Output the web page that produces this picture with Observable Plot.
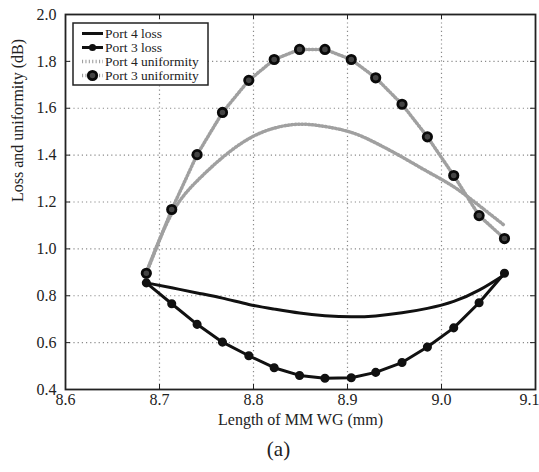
<!DOCTYPE html>
<html><head><meta charset="utf-8">
<script src="https://cdn.jsdelivr.net/npm/d3@7"></script>
<script src="https://cdn.jsdelivr.net/npm/@observablehq/plot@0.6"></script>
<style>body{margin:0;background:#fff} #chart{width:539px;height:472px}</style>
</head><body><div id="chart"></div>
<script>
const lengths    = [8.686, 8.713, 8.740, 8.767, 8.795, 8.822, 8.849, 8.876, 8.904, 8.930, 8.958, 8.985, 9.013, 9.040, 9.067];
const port4Loss  = [0.855, 0.834, 0.812, 0.790, 0.763, 0.743, 0.726, 0.715, 0.710, 0.714, 0.727, 0.746, 0.776, 0.824, 0.890];
const port3Loss  = [0.855, 0.766, 0.678, 0.602, 0.544, 0.493, 0.460, 0.448, 0.450, 0.473, 0.515, 0.581, 0.663, 0.770, 0.896];
const port4Unif  = [0.900, 1.150, 1.290, 1.390, 1.470, 1.515, 1.532, 1.522, 1.497, 1.452, 1.392, 1.330, 1.265, 1.185, 1.100];
const port3Unif  = [0.896, 1.168, 1.402, 1.582, 1.719, 1.808, 1.851, 1.851, 1.808, 1.730, 1.617, 1.478, 1.313, 1.142, 1.044];
const seriesNames = ["Port 4 loss", "Port 3 loss", "Port 4 uniformity", "Port 3 uniformity"];
const xTicks = [8.6, 8.7, 8.8, 8.9, 9.0, 9.1];
const yTicks = [0.4, 0.6, 0.8, 1.0, 1.2, 1.4, 1.6, 1.8, 2.0];
const xLabel = "Length of MM WG (mm)";
const yLabel = "Loss and uniformity (dB)";
const caption = "(a)";

const rows = vals => lengths.map((x, i) => ({x, y: vals[i]}));

const FONT = "'Liberation Serif', 'Times New Roman', 'DejaVu Serif', serif";
const W = 539, H = 472, mL = 65, mR = 4, mT = 14, mB = 83;
const innerH = H - mT - mB, innerW = W - mL - mR;
const gridStyle = {stroke: "#8a8a8a", strokeDasharray: "1.2,3", strokeWidth: 1.2};
const unifStyle = {stroke: "#a0a0a0", strokeWidth: 3.5, strokeDasharray: "1.1,2.3"};
const fmt = d3.format(".1f");

const plot = Plot.plot({
  width: W, height: H, marginLeft: mL, marginRight: mR, marginTop: mT, marginBottom: mB,
  style: {fontSize: "15px", color: "#222", background: "#fff"},
  x: {domain: [8.6, 9.1]},
  y: {domain: [0.4, 2.0]},
  marks: [
    Plot.ruleX(xTicks.slice(1, -1), gridStyle),
    Plot.ruleY(yTicks.slice(1, -1), gridStyle),
    Plot.line(rows(port4Unif), {x: "x", y: "y", curve: "natural", ...unifStyle}),
    Plot.line(rows(port3Unif), {x: "x", y: "y", ...unifStyle}),
    Plot.line(rows(port4Loss), {x: "x", y: "y", curve: "natural", stroke: "#111", strokeWidth: 3}),
    Plot.line(rows(port3Loss), {x: "x", y: "y", stroke: "#111", strokeWidth: 3}),
    Plot.dot(rows(port3Loss), {x: "x", y: "y", r: 3.8, fill: "#111", stroke: "#111"}),
    Plot.dot(rows(port3Unif), {x: "x", y: "y", r: 4.2, fill: "#444", stroke: "#0a0a0a", strokeWidth: 2.8}),
    Plot.tickX(xTicks, {x: d => d, insetTop: innerH - 5, stroke: "#222"}),
    Plot.tickX(xTicks, {x: d => d, insetBottom: innerH - 5, stroke: "#222"}),
    Plot.tickY(yTicks, {y: d => d, insetRight: innerW - 5, stroke: "#222"}),
    Plot.tickY(yTicks, {y: d => d, insetLeft: innerW - 5, stroke: "#222"}),
    Plot.frame({stroke: "#222", strokeWidth: 1.8}),
    Plot.axisX(xTicks.slice(0, -1), {tickSize: 0, tickPadding: 4, tickFormat: fmt, label: null, fontSize: 16}),
    Plot.axisX(xTicks.slice(-1), {tickSize: 0, tickPadding: 4, tickFormat: fmt, label: null, fontSize: 16, dx: -6}),
    Plot.axisY(yTicks, {tickSize: 0, tickPadding: 9, tickFormat: fmt, label: null, fontSize: 16}),
    Plot.text([xLabel], {text: d => d, frameAnchor: "bottom", dy: 35, fontSize: 16, fill: "#222"}),
    Plot.text([caption], {text: d => d, frameAnchor: "bottom", dy: 66, dx: -22, fontSize: 21, fill: "#222"}),
    Plot.text([yLabel], {text: d => d, frameAnchor: "left", rotate: -90, dx: -48, fontSize: 16, fill: "#222"})
  ]
});

// Legend
const svg = d3.select(plot);
const lg = svg.append("g").attr("font-size", 13.5).attr("fill", "#222").attr("text-anchor", "start");
lg.append("rect").attr("x", 73).attr("y", 23).attr("width", 135).attr("height", 62)
  .attr("fill", "#fff").attr("stroke", "#222").attr("stroke-width", 1.5);
const rowY = i => 33.5 + i * 14;
seriesNames.forEach((name, i) => {
  const y = rowY(i);
  const ln = lg.append("line").attr("x1", 82).attr("x2", 103).attr("y1", y).attr("y2", y);
  if (i < 2) ln.attr("stroke", "#111").attr("stroke-width", 3);
  else ln.attr("stroke", "#a0a0a0").attr("stroke-width", 3.5).attr("stroke-dasharray", "1.1,2.3");
  if (i === 1) lg.append("circle").attr("cx", 92.5).attr("cy", y).attr("r", 3.6).attr("fill", "#111");
  if (i === 3) lg.append("circle").attr("cx", 92.5).attr("cy", y).attr("r", 4.2).attr("fill", "#444").attr("stroke", "#0a0a0a").attr("stroke-width", 2.8);
  lg.append("text").attr("x", 105).attr("y", y).attr("dy", "0.35em").text(name);
});

svg.attr("font-family", FONT).style("font-family", FONT);
svg.selectAll("text").style("font-family", FONT);

document.getElementById("chart").appendChild(plot);
</script>
</body></html>
